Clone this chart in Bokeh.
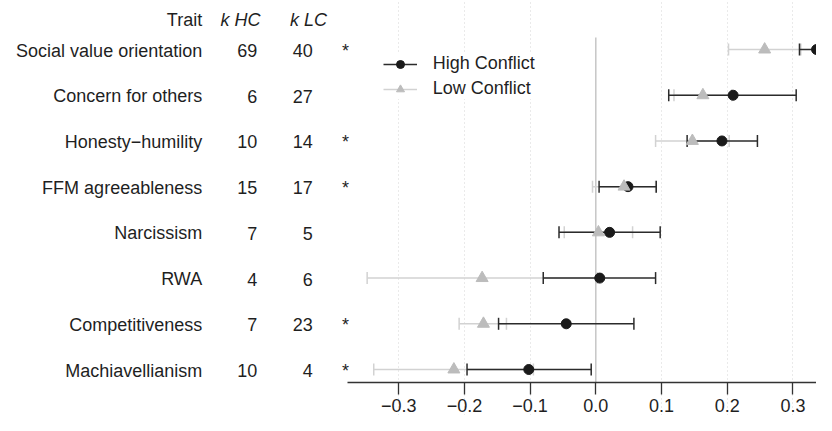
from bokeh.plotting import figure
from bokeh.models import (ColumnDataSource, Range1d, FixedTicker, Whisker, TeeHead,
                          Legend, LegendItem)
from bokeh.core.properties import value
from bokeh.embed import file_html
from bokeh.resources import INLINE

# ---------------- data ----------------
traits = ["Social value orientation", "Concern for others", "Honesty\u2212humility",
          "FFM agreeableness", "Narcissism", "RWA", "Competitiveness", "Machiavellianism"]
k_hc = [69, 6, 10, 15, 7, 4, 7, 10]
k_lc = [40, 27, 14, 17, 5, 6, 23, 4]
sig = ["*", "", "*", "*", "", "", "*", "*"]

hc_est = [0.336, 0.209, 0.192, 0.049, 0.021, 0.006, -0.045, -0.102]
hc_lo = [0.310, 0.111, 0.139, 0.005, -0.056, -0.080, -0.148, -0.196]
hc_hi = [0.362, 0.305, 0.246, 0.092, 0.098, 0.091, 0.058, -0.007]

lc_est = [0.257, 0.163, 0.147, 0.043, 0.004, -0.173, -0.171, -0.216]
lc_lo = [0.202, 0.119, 0.091, -0.005, -0.048, -0.348, -0.208, -0.338]
lc_hi = [0.312, 0.207, 0.203, 0.091, 0.056, 0.002, -0.136, -0.095]

tick_values = [-0.3, -0.2, -0.1, 0.0, 0.1, 0.2, 0.3]
tick_labels = ["\u22120.3", "\u22120.2", "\u22120.1", "0.0", "0.1", "0.2", "0.3"]
headers = ["Trait", "k HC", "k LC"]
series_names = ["High Conflict", "Low Conflict"]

# ---------------- layout helpers (figure pixels -> data) ----------------
W, H = 816, 415
X0PX, XSCALE = 595.3, 657.0           # px of x=0, px per unit
ROW1PX, ROWSTEP = 369.0, 45.71        # px of bottom row, px per row
def px2x(px):
    return (px - X0PX) / XSCALE
def py2y(py):
    return 1 + (ROW1PX - py) / ROWSTEP

AXIS_PX = 381.7
n = len(traits)
rows = [n - i for i in range(n)]
NAN = float("nan")

FONT = value("Liberation Sans")
TXT = "#1f1f1f"
HC_COL, HC_LINE = "#1a1a1a", "#2b2b2b"
LC_COL, LC_LINE = "#bcbcbc", "#d2d2d2"

p = figure(width=W, height=H, output_backend="svg", toolbar_location=None,
           x_range=Range1d(px2x(0), px2x(W)),
           y_range=Range1d(py2y(H), py2y(0)),
           y_axis_location=None, min_border_left=0, min_border_right=0,
           min_border_top=0, min_border_bottom=0)
p.outline_line_color = None
p.background_fill_color = "white"
p.border_fill_color = "white"

# grid
p.ygrid.visible = False
p.xgrid.ticker = FixedTicker(ticks=[t for t in tick_values if t != 0])
p.xgrid.grid_line_color = "#d4d4d4"
p.xgrid.grid_line_dash = "1 3"
p.xgrid.grid_line_width = 1
p.xgrid.bounds = (py2y(AXIS_PX), py2y(37))

# zero line
p.segment(x0=[0], y0=[py2y(AXIS_PX)], x1=[0], y1=[py2y(37)],
          line_color="#c6c6c6", line_width=1.5, level="underlay")

# axis (drawn inside the frame at a fixed data location)
ax = p.xaxis[0]
ax.fixed_location = py2y(AXIS_PX)
ax.ticker = FixedTicker(ticks=tick_values)
ax.major_label_overrides = {t: l for t, l in zip(tick_values, tick_labels)}
ax.bounds = (px2x(347), px2x(W))
ax.axis_line_color = "#333333"
ax.axis_line_width = 1.3
ax.major_tick_line_color = "#333333"
ax.major_tick_line_width = 1.3
ax.major_tick_in = 0
ax.major_tick_out = 12
ax.minor_tick_line_color = None
ax.major_label_standoff = 5
ax.major_label_text_font = "Liberation Sans"
ax.major_label_text_font_size = "18px"
ax.major_label_text_color = TXT

# error bars
lc_src = ColumnDataSource(dict(y=rows, lo=lc_lo, hi=lc_hi, est=lc_est))
hc_src = ColumnDataSource(dict(y=rows, lo=hc_lo, hi=hc_hi, est=hc_est))

lc_w = Whisker(source=lc_src, base="y", lower="lo", upper="hi", dimension="width",
               line_color=LC_LINE, line_width=1.5, level="underlay",
               lower_head=TeeHead(size=12, line_color=LC_LINE, line_width=1.5),
               upper_head=TeeHead(size=12, line_color=LC_LINE, line_width=1.5))
hc_w = Whisker(source=hc_src, base="y", lower="lo", upper="hi", dimension="width",
               line_color=HC_LINE, line_width=1.5, level="underlay",
               lower_head=TeeHead(size=12, line_color=HC_LINE, line_width=1.5),
               upper_head=TeeHead(size=12, line_color=HC_LINE, line_width=1.5))
p.add_layout(lc_w)
p.add_layout(hc_w)

p.scatter(x="est", y="y", source=hc_src, marker="circle", size=10,
          fill_color=HC_COL, line_color=HC_COL)
p.scatter(x="est", y="y", source=lc_src, marker="triangle", size=12,
          fill_color=LC_COL, line_color=LC_COL)

# legend-only renderers (NaN data: nothing drawn in the frame)
hc_leg_line = p.line(x=[NAN, NAN], y=[NAN, NAN], line_color=HC_LINE, line_width=1.5)
lc_leg_line = p.line(x=[NAN, NAN], y=[NAN, NAN], line_color=LC_LINE, line_width=1.5)
hc_leg_pt = p.scatter(x=[NAN], y=[NAN], marker="circle", size=7,
                      fill_color=HC_COL, line_color=HC_COL)
lc_leg_pt = p.scatter(x=[NAN], y=[NAN], marker="triangle", size=9,
                      fill_color=LC_COL, line_color=LC_COL)

legend = Legend(items=[LegendItem(label=series_names[0], renderers=[hc_leg_line, hc_leg_pt]),
                       LegendItem(label=series_names[1], renderers=[lc_leg_line, lc_leg_pt])],
                location=(382.7, H - 99.2),
                padding=14, margin=0, spacing=4,
                glyph_width=34, glyph_height=20, label_height=20,
                label_standoff=16, border_line_color=None,
                background_fill_color="white", background_fill_alpha=1.0,
                label_text_font="Liberation Sans", label_text_font_size="18px",
                label_text_color=TXT)
p.add_layout(legend)

# table text
tsrc = ColumnDataSource(dict(y=rows, trait=traits,
                             khc=[str(k) for k in k_hc],
                             klc=[str(k) for k in k_lc], sig=sig))
common = dict(text_font=FONT, text_font_size="18px", text_color=TXT,
              text_baseline="middle", y_offset=1)
p.text(x=px2x(201.7), y="y", text="trait", source=tsrc, text_align="right", **common)
p.text(x=px2x(256.7), y="y", text="khc", source=tsrc, text_align="right", **common)
p.text(x=px2x(312.3), y="y", text="klc", source=tsrc, text_align="right", **common)
p.text(x=px2x(345.0), y="y", text="sig", source=tsrc, text_align="center", **common)

hy = py2y(19)
p.text(x=[px2x(201.7)], y=[hy], text=[headers[0]], text_align="right",
       text_font=FONT, text_font_size="18px", text_color=TXT, text_baseline="middle")
p.text(x=[px2x(240.0), px2x(308.0)], y=[hy, hy], text=headers[1:], text_align="center",
       text_font=FONT, text_font_size="18px", text_color=TXT, text_baseline="middle",
       text_font_style="italic")

open("out.html", "w").write(file_html(p, INLINE))
